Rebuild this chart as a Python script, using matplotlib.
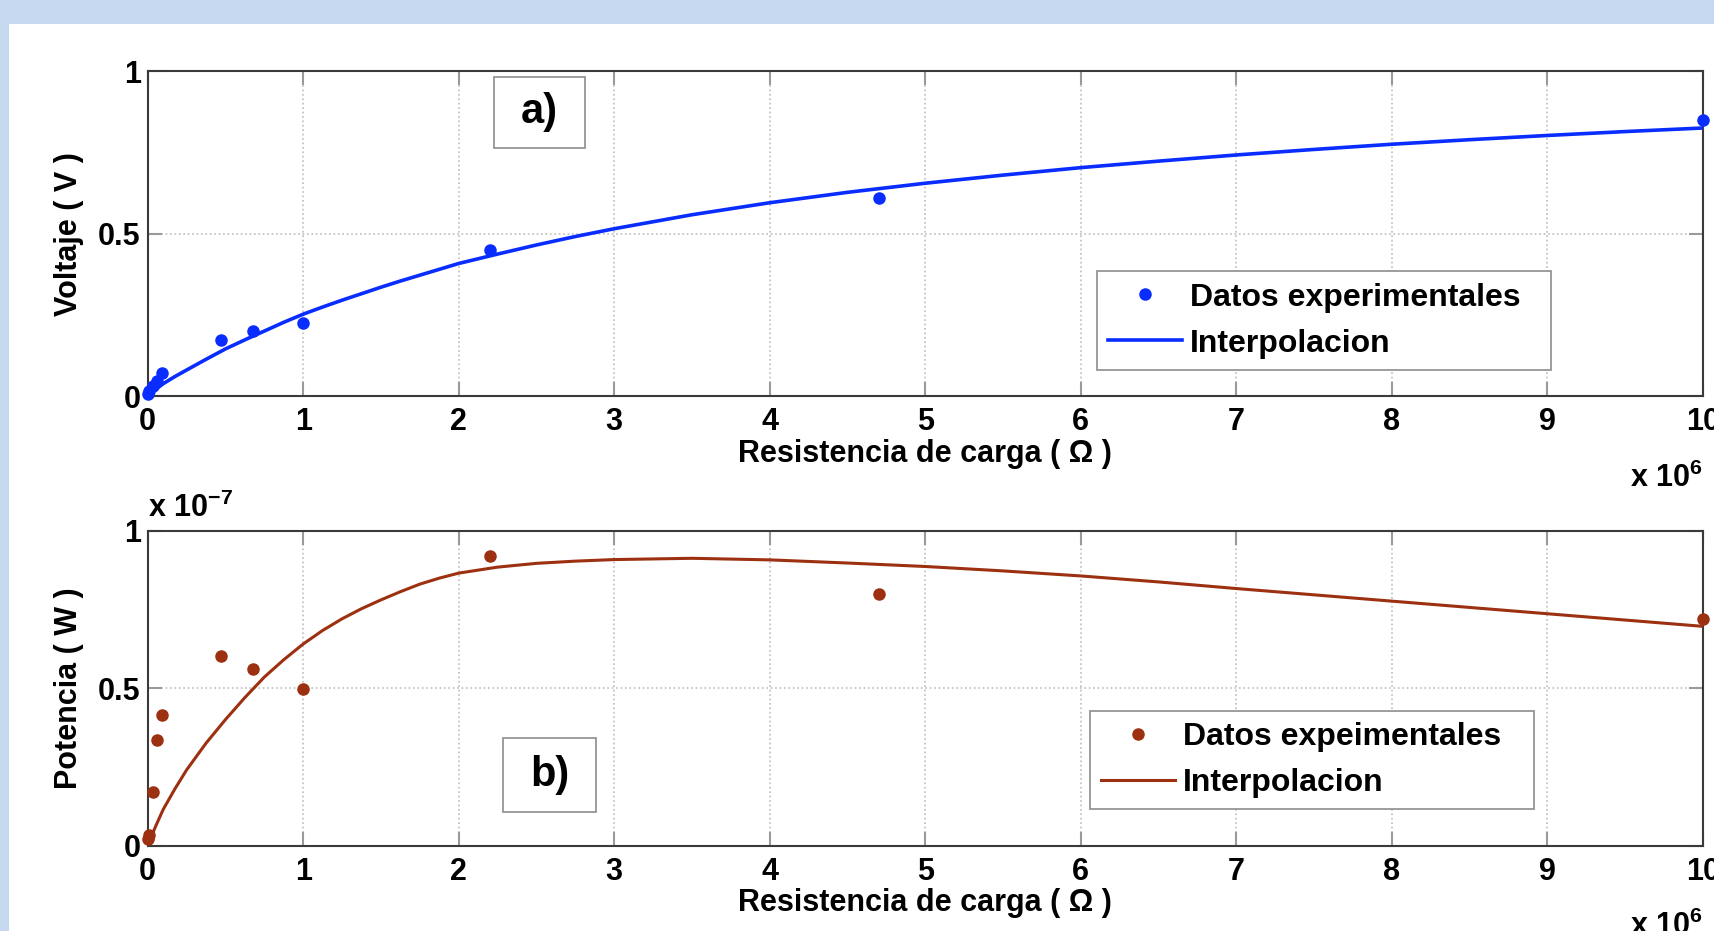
import matplotlib
matplotlib.use("Agg")
import matplotlib.pyplot as plt
import numpy as np

plt.rcParams['font.family'] = ['Liberation Sans', 'DejaVu Sans']
plt.rcParams['font.weight'] = 'bold'
plt.rcParams['axes.labelweight'] = 'bold'
plt.rcParams['mathtext.fontset'] = 'custom'
plt.rcParams['mathtext.rm'] = 'Liberation Sans:bold'
plt.rcParams['mathtext.it'] = 'Liberation Sans:bold'
plt.rcParams['mathtext.bf'] = 'Liberation Sans:bold'
plt.rcParams['mathtext.default'] = 'rm'

# Datos experimentales (R en unidades de 1e6 ohm, P en unidades de 1e-7 W)
resistencia = [0.003, 0.01, 0.037, 0.058, 0.09, 0.47, 0.68, 1.0, 2.2, 4.7, 10.0]
voltaje = [0.005, 0.015, 0.03, 0.045, 0.07, 0.174, 0.2, 0.226, 0.45, 0.61, 0.85]
potencia = [0.02, 0.035, 0.17, 0.335, 0.416, 0.603, 0.561, 0.498, 0.92, 0.80, 0.72]

# Curvas de interpolacion
r_curva = [0, 0.05, 0.1, 0.175, 0.25, 0.375, 0.5, 0.625, 0.75, 0.875, 1, 1.125, 1.25,
           1.375, 1.5, 1.625, 1.75, 1.875, 2, 2.25, 2.5, 2.75, 3, 3.5, 4, 4.5, 5, 5.5,
           6, 6.5, 7, 7.5, 8, 8.5, 9, 9.5, 10]
v_curva = [0, 0.02, 0.038, 0.06, 0.08, 0.113, 0.145, 0.173, 0.2, 0.227, 0.252, 0.274,
           0.295, 0.315, 0.335, 0.354, 0.372, 0.39, 0.408, 0.437, 0.465, 0.491, 0.515,
           0.558, 0.595, 0.627, 0.655, 0.68, 0.703, 0.723, 0.742, 0.759, 0.775, 0.789,
           0.802, 0.814, 0.825]
p_curva = [0, 0.06, 0.115, 0.18, 0.24, 0.325, 0.40, 0.47, 0.535, 0.59, 0.64, 0.683,
           0.72, 0.752, 0.78, 0.806, 0.83, 0.849, 0.865, 0.884, 0.896, 0.903, 0.908,
           0.912, 0.907, 0.897, 0.886, 0.872, 0.856, 0.837, 0.816, 0.796, 0.776, 0.756,
           0.736, 0.716, 0.696]

xticks = list(range(0, 11))
yticks = [0, 0.5, 1]

azul = '#0a2dff'
cafe = '#9c3010'
borde = '#8c8c8c'
fs = 22
fs_leg = 23

fig = plt.figure(figsize=(17.15, 9.31), dpi=100, facecolor='#c5d8ef')
# Fondo blanco (captura recortada)
fondo = fig.add_axes([0.0051, 0, 0.9949, 0.974], zorder=-10)
fondo.axis('off')
fondo.add_patch(plt.Rectangle((0, 0), 1, 1, transform=fondo.transAxes,
                              facecolor='white', edgecolor='none'))

ax1 = fig.add_axes([0.0861, 0.5746, 0.9069, 0.349])
ax2 = fig.add_axes([0.0861, 0.0917, 0.9069, 0.3384])


def estilo(ax):
    ax.set_xlim(0, 10)
    ax.set_ylim(0, 1)
    ax.set_xticks(xticks)
    ax.set_yticks(yticks)
    ax.set_yticklabels(['0', '0.5', '1'])
    ax.grid(True, linestyle=':', color='#bdbdbd', linewidth=1.2)
    ax.tick_params(direction='in', length=10, width=1.5, color='#9a9a9a',
                   top=True, right=True, labelsize=fs)
    ax.tick_params(axis='x', pad=8)
    ax.tick_params(axis='y', pad=5)
    for s in ax.spines.values():
        s.set_color('#3a3a3a')
        s.set_linewidth(1.5)
    ax.set_xlabel('Resistencia de carga ( Ω )', fontsize=fs, labelpad=1)


def leyenda(ax, caja):
    ley = ax.legend(loc='lower left', bbox_to_anchor=caja, mode='expand',
                    borderaxespad=0, fontsize=fs_leg, numpoints=1, handlelength=2.3,
                    handletextpad=0.25, labelspacing=0.5, borderpad=0.35,
                    fancybox=False, edgecolor=borde, framealpha=1)
    ley.get_frame().set_linewidth(1.2)


def etiqueta(ax, caja, texto):
    x, y, w, h = caja
    ax.add_patch(plt.Rectangle((x, y), w, h, transform=ax.transAxes, facecolor='white',
                               edgecolor=borde, linewidth=1.2, zorder=5))
    ax.text(x + w / 2, y + h / 2, texto, transform=ax.transAxes, fontsize=30,
            ha='center', va='center', zorder=6)


# Panel a) voltaje
estilo(ax1)
ax1.plot(resistencia, voltaje, 'o', color=azul, markersize=8, label='Datos experimentales',
         clip_on=False, zorder=4)
ax1.plot(r_curva, v_curva, '-', color=azul, linewidth=2.6, label='Interpolacion', zorder=3)
ax1.set_ylabel('Voltaje ( V )', fontsize=fs, labelpad=10)
leyenda(ax1, (0.6104, 0.081, 0.292, 0.303))
etiqueta(ax1, (0.2229, 0.7643, 0.0584, 0.2189), 'a)')
ax1.text(1.0, -0.205, 'x 10$^{6}$', transform=ax1.transAxes, fontsize=fs, ha='right',
         va='top')

# Panel b) potencia
estilo(ax2)
ax2.plot(resistencia, potencia, 'o', color=cafe, markersize=8, label='Datos expeimentales',
         clip_on=False, zorder=4)
ax2.plot(r_curva, p_curva, '-', color=cafe, linewidth=2.2, label='Interpolacion', zorder=3)
ax2.set_ylabel('Potencia ( W )', fontsize=fs, labelpad=10)
leyenda(ax2, (0.606, 0.115, 0.2855, 0.312))
etiqueta(ax2, (0.2286, 0.1076, 0.0598, 0.2326), 'b)')
ax2.text(0.0, 1.02, 'x 10$^{-7}$', transform=ax2.transAxes, fontsize=fs, ha='left',
         va='bottom')
ax2.text(1.0, -0.205, 'x 10$^{6}$', transform=ax2.transAxes, fontsize=fs, ha='right',
         va='top')

fig.savefig('out.png', dpi=100, facecolor=fig.get_facecolor())
